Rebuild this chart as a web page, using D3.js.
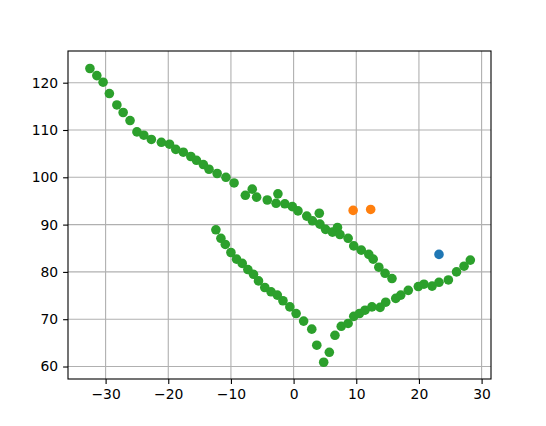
<!DOCTYPE html>
<html><head><meta charset="utf-8">
<script src="https://cdn.jsdelivr.net/npm/d3@7"></script>
<style>body{margin:0;background:#fff}svg{display:block}</style>
</head><body>
<script>
const xTicks = [-30,-20,-10,0,10,20,30];
const yTicks = [60,70,80,90,100,110,120];
const blueX = [23.2];
const blueY = [83.7];
const orangeX = [9.5, 12.3];
const orangeY = [93.0, 93.2];
const greenX = [-32.5,-31.4,-30.4,-29.4,-28.2,-27.2,-26.1,-25.0,-23.9,-22.7,-21.1,-19.8,-18.8,-17.6,-16.4,-15.5,-14.4,-13.5,-12.2,-10.8,-9.5,-7.7,-6.6,-5.9,-4.2,-2.8,-2.5,-1.4,-0.2,0.7,2.1,3.0,4.1,4.2,5.1,6.2,7.0,7.4,8.7,9.6,10.8,12.0,12.7,13.6,14.6,15.7,
  -12.4,-11.6,-10.9,-10.0,-9.1,-8.2,-7.3,-6.4,-5.6,-4.6,-3.6,-2.6,-1.7,-0.6,0.4,1.6,2.9,3.7,4.8,5.7,6.6,7.6,8.7,9.6,10.5,11.4,12.5,13.8,14.7,16.3,17.1,18.3,19.9,20.8,22.1,23.2,24.7,26.0,27.2,28.2];
const greenY = [123.0,121.5,120.1,117.7,115.3,113.7,112.0,109.6,108.9,108.0,107.4,107.0,105.9,105.3,104.4,103.6,102.7,101.7,100.8,100.0,98.8,96.2,97.5,95.8,95.2,94.5,96.5,94.4,93.8,92.9,91.8,90.8,92.4,90.1,89.0,88.4,89.4,87.9,87.1,85.5,84.6,83.7,82.7,81.0,79.7,78.6,
  88.9,87.1,85.8,84.1,82.7,81.8,80.5,79.5,78.1,76.7,75.8,75.1,73.9,72.6,71.2,69.6,67.9,64.5,60.9,63.0,66.6,68.5,69.1,70.6,71.2,71.9,72.6,72.5,73.6,74.4,75.1,76.1,76.9,77.4,77.0,77.8,78.3,80.0,81.2,82.5];

const W = 546, H = 426;
const L = 68, R = 491, T = 51, B = 379;
const svg = d3.select("body").append("svg").attr("width", W).attr("height", H);
const x = d3.scaleLinear().domain([-36.0, 31.5]).range([L, R]);
const y = d3.scaleLinear().domain([57.36, 126.7]).range([B, T]);

const g = svg.append("g");
g.selectAll(".gx").data(xTicks).enter().append("line")
  .attr("x1", d => x(d)).attr("x2", d => x(d)).attr("y1", T).attr("y2", B)
  .attr("stroke", "#b0b0b0").attr("stroke-width", 1.1);
g.selectAll(".gy").data(yTicks).enter().append("line")
  .attr("y1", d => y(d)).attr("y2", d => y(d)).attr("x1", L).attr("x2", R)
  .attr("stroke", "#b0b0b0").attr("stroke-width", 1.1);

function pts(xs, ys, color) {
  svg.append("g").selectAll("circle").data(xs.map((v, i) => [v, ys[i]])).enter().append("circle")
    .attr("cx", d => x(d[0])).attr("cy", d => y(d[1])).attr("r", 4.8).attr("fill", color);
}
pts(blueX, blueY, "#1f77b4");
pts(orangeX, orangeY, "#ff7f0e");
pts(greenX, greenY, "#2ca02c");

const fmt = d => d < 0 ? "\u2212" + Math.abs(d) : String(d);
const xAxis = d3.axisBottom(x).tickValues(xTicks).tickFormat(fmt).tickSize(4.9).tickPadding(4.9);
const yAxis = d3.axisLeft(y).tickValues(yTicks).tickFormat(fmt).tickSize(4.9).tickPadding(4.9);
const ax = svg.append("g").attr("transform", `translate(0,${B})`).call(xAxis);
const ay = svg.append("g").attr("transform", `translate(${L},0)`).call(yAxis);
[ax, ay].forEach(a => {
  a.select(".domain").remove();
  a.selectAll("line").attr("stroke", "#000").attr("stroke-width", 1.1);
  a.selectAll("text").attr("fill", "#000").style("font-family", "DejaVu Sans").style("font-size", "13.9px");
});
svg.append("rect").attr("x", L).attr("y", T).attr("width", R - L).attr("height", B - T)
  .attr("fill", "none").attr("stroke", "#000").attr("stroke-width", 1.1);
</script>
</body></html>
